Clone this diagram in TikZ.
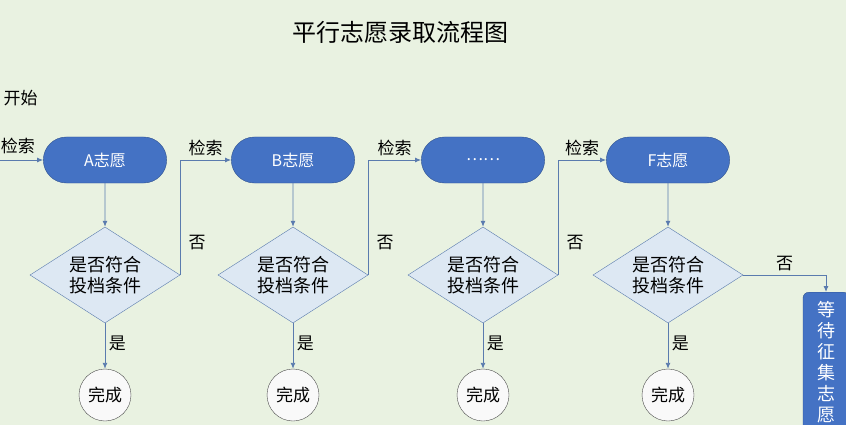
\documentclass[tikz,border=0pt]{standalone}
\usepackage{fontspec}
\setmainfont{Noto Sans CJK SC}
\usetikzlibrary{shapes.geometric,shapes.misc,arrows.meta,calc}
\definecolor{bg}{HTML}{E9F2E1}
\definecolor{pill}{HTML}{4472C4}
\definecolor{pilledge}{HTML}{2F528F}
\definecolor{dfill}{HTML}{DDE8F3}
\definecolor{ln}{HTML}{5A7BAE}
\tikzset{
 pillS/.style={rounded rectangle,fill=pill,draw=pilledge,text=white,minimum width=130pt,minimum height=46pt,font=\fontsize{16}{18}\selectfont},
 dia/.style={diamond,aspect=1.56,fill=dfill,draw=ln,minimum width=150pt,minimum height=96pt,inner sep=0pt,align=center,font=\fontsize{18}{21}\selectfont},
 done/.style={circle,draw=black!70,fill=white!95!gray,minimum size=52pt,inner sep=0pt,font=\fontsize{17}{19}\selectfont},
 arr/.style={draw=ln,line width=0.9pt,-{Latex[length=6pt,width=5pt]}},
 lab/.style={font=\fontsize{17}{19}\selectfont},
}
\begin{document}
\begin{tikzpicture}[x=1pt,y=-1pt]
\fill[bg] (0,0) rectangle (846,425);
\useasboundingbox (0,0) rectangle (846,425);
\node[font=\fontsize{24}{28}\selectfont] (title) at (400,32) {平行志愿录取流程图};
\node[lab,anchor=west] (start) at (0,98) {开始};
\coordinate (in) at (0,160);
\foreach \n/\x/\t in {a/105/A志愿,b/293/B志愿,c/483/……,f/668/F志愿}{
 \node[pillS] (p\n) at (\x,160) {\t};
 \node[dia] (d\n) at (\x,275) {是否符合\\投档条件};
 \node[done] (o\n) at (\x,395) {完成};
 \draw[arr] (p\n) -- (d\n);
 \draw[arr] (d\n) -- node[lab,right,pos=0.45]{是} (o\n);
}
\node[lab] at (18,146) {检索};
\draw[arr] (in) -- (pa);
\foreach \u/\v in {a/b,b/c,c/f}{
 \draw[arr] (d\u.east) -- (d\u.east |- p\v.west) -- node[lab,above,pos=0.5]{检索} (p\v.west);
 \node[lab] at ($(d\u.east)+(17,-32)$) {否};
}
\node[rounded corners=6pt,fill=pill,draw=pilledge,minimum width=46pt,minimum height=150pt,anchor=north] (wait) at (826,292) {};
\node[text=white,anchor=north,align=center,font=\fontsize{18}{21}\selectfont] (waitt) at (826,298) {等\\待\\征\\集\\志\\愿};
\draw[arr] (df.east) -- node[lab,above,pos=0.5]{否} (df.east -| wait.north) -- (wait.north);
\end{tikzpicture}
\end{document}
